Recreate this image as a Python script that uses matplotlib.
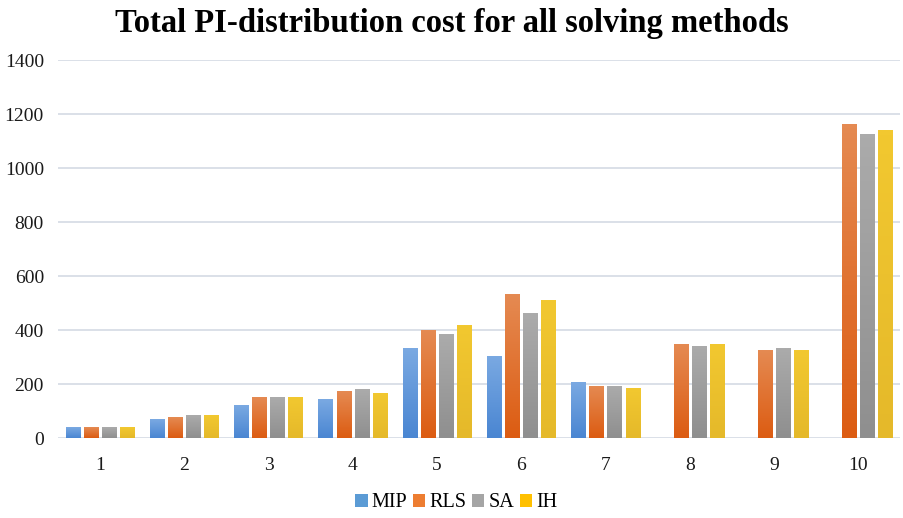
#!/usr/bin/env python3

import numpy as np
import matplotlib.pyplot as plt
from matplotlib.colors import LinearSegmentedColormap

instances = ['1', '2', '3', '4', '5', '6', '7', '8', '9', '10']
methods = ['MIP', 'RLS', 'SA', 'IH']

# values (no MIP bar for 8, 9, 10)
mip = [40, 70, 122, 143, 332, 305, 207, 0, 0, 0]
rls = [40, 77, 152, 174, 400, 533, 193, 350, 325, 1165]
sa = [40, 85, 152, 181, 385, 463, 193, 343, 333, 1128]
ih = [40, 85, 152, 167, 418, 510, 184, 350, 325, 1141]
series = [mip, rls, sa, ih]

base_colors = ['#5b9bd5', '#ed7d31', '#a5a5a5', '#ffc000']
# top / bottom shades for the excel style gradient
shades = [('#7aa9e2', '#4a86d2'), ('#e58a52', '#dc5c12'),
          ('#ababab', '#8f8f8f'), ('#f2c830', '#e5b92a')]

plt.rcParams['font.family'] = ['Liberation Serif', 'DejaVu Serif']

fig = plt.figure(figsize=(9.04, 5.18), dpi=100)
ax = fig.add_axes([0.064, 0.1544, 0.932, 0.729])

x = np.arange(len(instances))
width = 0.17
step = 0.215

for i, (vals, col, (top, bot)) in enumerate(zip(series, base_colors, shades)):
    offs = x + (i - 1.5) * step
    bars = ax.bar(offs, vals, width, color=col, label=methods[i], zorder=2)
    cmap = LinearSegmentedColormap.from_list('g%d' % i, [bot, top])
    grad = np.linspace(0, 1, 64).reshape(-1, 1)
    for b in bars:
        h = b.get_height()
        if h <= 0:
            continue
        bx, bw = b.get_x(), b.get_width()
        im = ax.imshow(grad, cmap=cmap, aspect='auto', origin='lower',
                       extent=(bx, bx + bw, 0, h), zorder=3)
        im.set_clip_path(b)

ax.set_xlim(-0.5, len(instances) - 0.5)
ax.set_ylim(0, 1400)
ax.set_yticks(np.arange(0, 1401, 200))
ax.set_xticks(x)
ax.set_xticklabels(instances)
ax.tick_params(axis='both', length=0, labelsize=14, colors='#1a1a1a')
ax.tick_params(axis='x', pad=14)
ax.tick_params(axis='y', pad=10)
ax.grid(axis='y', color='#dbe0e8', linewidth=1.4, zorder=0)
for s in ['top', 'right', 'left', 'bottom']:
    ax.spines[s].set_visible(False)

fig.suptitle('Total PI-distribution cost for all solving methods',
             fontsize=23.5, fontweight='bold', y=0.985)

fig.legend(loc='lower center', ncol=4, frameon=False, fontsize=14.5,
           handlelength=0.6, handleheight=0.6, handletextpad=0.2,
           columnspacing=0.3, bbox_to_anchor=(0.505, -0.024))

fig.savefig('out.png', dpi=100)
